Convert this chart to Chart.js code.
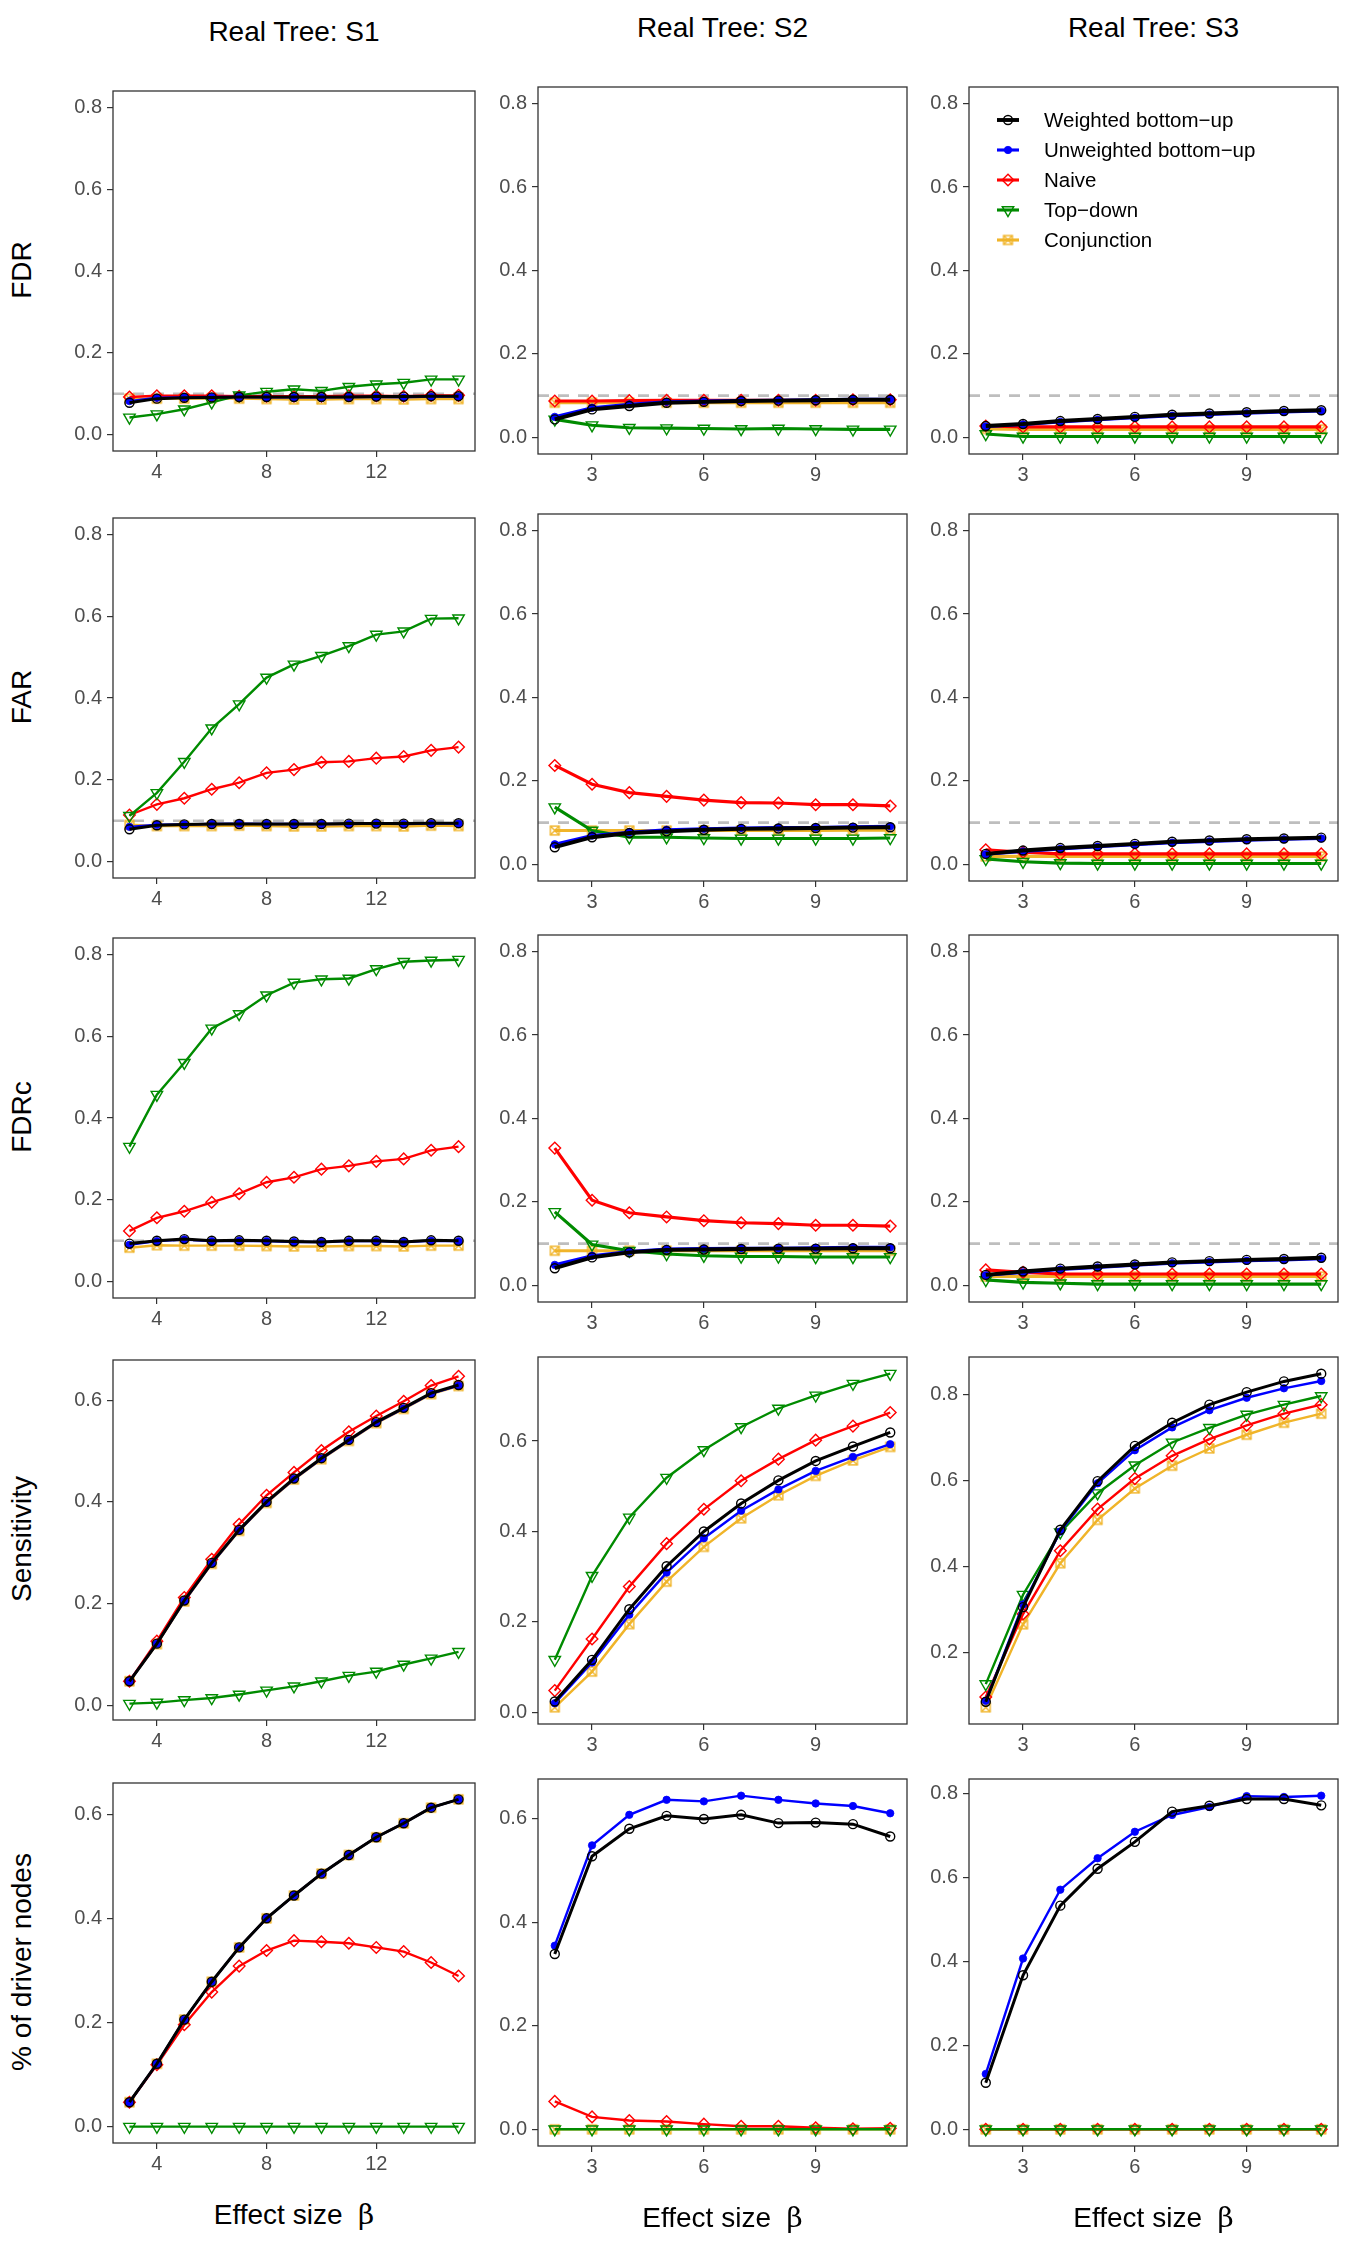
<!DOCTYPE html>
<html>
<head>
<meta charset="utf-8">
<title>Real Tree simulations</title>
<script src="https://cdn.jsdelivr.net/npm/chart.js@4.4.1/dist/chart.umd.min.js"></script>
<style>
  html, body { margin: 0; padding: 0; background: #fff; }
  #page { position: relative; width: 1350px; height: 2250px; background: #fff; overflow: hidden;
          font-family: 'Liberation Sans', Arial, sans-serif; color: #000; }
  .panel { position: absolute; display: block; }
  .colTitle, .xTitle { position: absolute; width: 400px; margin-left: -200px; text-align: center;
                       font-size: 28px; line-height: 28px; white-space: pre; }
  .rowTitle { position: absolute; width: 400px; height: 28px; margin-left: -200px; margin-top: -14px;
              text-align: center; font-size: 28px; line-height: 28px; white-space: nowrap;
              transform: rotate(-90deg); }
  .beta { font-family: 'DejaVu Serif', 'Liberation Serif', serif; }
</style>
</head>
<body>
<div id="page"></div>
<script>
// ===== DATA =====
const betaS1 = [3, 4, 5, 6, 7, 8, 9, 10, 11, 12, 13, 14, 15];
const betaS23 = [2, 3, 4, 5, 6, 7, 8, 9, 10, 11];
const xTicksS1 = [4, 8, 12];
const xTicksS23 = [3, 6, 9];
const yTicks = [0, 0.2, 0.4, 0.6, 0.8];
const rateLimits = [0, 0.8];
const nominalLevel = 0.1;

const methods = ['Weighted bottom\u2212up', 'Unweighted bottom\u2212up', 'Naive', 'Top\u2212down', 'Conjunction'];
const columnTitles = ['Real Tree: S1', 'Real Tree: S2', 'Real Tree: S3'];
const rowTitles = ['FDR', 'FAR', 'FDRc', 'Sensitivity', '% of driver nodes'];

// each table: one row per method, in the order of `methods`
const fdrS1 = [
  [0.078, 0.088, 0.090, 0.091, 0.092, 0.092, 0.092, 0.092, 0.092, 0.093, 0.093, 0.094, 0.094],
  [0.082, 0.090, 0.091, 0.092, 0.092, 0.091, 0.091, 0.091, 0.092, 0.092, 0.091, 0.093, 0.093],
  [0.092, 0.095, 0.095, 0.095, 0.094, 0.094, 0.094, 0.094, 0.095, 0.095, 0.094, 0.096, 0.096],
  [0.042, 0.050, 0.062, 0.079, 0.096, 0.105, 0.111, 0.107, 0.117, 0.123, 0.127, 0.135, 0.135],
  [0.088, 0.088, 0.088, 0.089, 0.088, 0.087, 0.086, 0.086, 0.087, 0.087, 0.086, 0.087, 0.087]
];
const fdrS2 = [
  [0.043, 0.067, 0.075, 0.083, 0.085, 0.087, 0.088, 0.089, 0.090, 0.090],
  [0.049, 0.071, 0.079, 0.085, 0.087, 0.088, 0.089, 0.090, 0.091, 0.091],
  [0.087, 0.087, 0.088, 0.089, 0.089, 0.089, 0.089, 0.089, 0.090, 0.090],
  [0.043, 0.029, 0.023, 0.022, 0.021, 0.020, 0.021, 0.020, 0.019, 0.019],
  [0.083, 0.083, 0.083, 0.083, 0.083, 0.083, 0.083, 0.083, 0.083, 0.083]
];
const fdrS3 = [
  [0.027, 0.032, 0.039, 0.044, 0.049, 0.054, 0.057, 0.060, 0.063, 0.065],
  [0.026, 0.031, 0.037, 0.042, 0.047, 0.052, 0.055, 0.058, 0.061, 0.063],
  [0.027, 0.025, 0.025, 0.025, 0.025, 0.025, 0.025, 0.025, 0.025, 0.025],
  [0.008, 0.002, 0.002, 0.002, 0.002, 0.002, 0.002, 0.002, 0.002, 0.002],
  [0.020, 0.019, 0.019, 0.019, 0.019, 0.019, 0.019, 0.019, 0.019, 0.019]
];
const farS1 = [
  [0.079, 0.089, 0.091, 0.092, 0.092, 0.092, 0.092, 0.092, 0.093, 0.093, 0.093, 0.094, 0.094],
  [0.085, 0.090, 0.091, 0.092, 0.093, 0.092, 0.092, 0.092, 0.092, 0.093, 0.092, 0.093, 0.093],
  [0.114, 0.140, 0.155, 0.177, 0.193, 0.217, 0.225, 0.243, 0.245, 0.253, 0.257, 0.272, 0.280],
  [0.112, 0.168, 0.244, 0.326, 0.385, 0.450, 0.482, 0.503, 0.527, 0.555, 0.563, 0.594, 0.595],
  [0.090, 0.087, 0.087, 0.087, 0.088, 0.087, 0.086, 0.086, 0.087, 0.087, 0.086, 0.088, 0.087]
];
const farS2 = [
  [0.041, 0.065, 0.075, 0.079, 0.083, 0.085, 0.086, 0.087, 0.088, 0.089],
  [0.048, 0.069, 0.077, 0.083, 0.085, 0.087, 0.088, 0.088, 0.090, 0.091],
  [0.237, 0.192, 0.172, 0.163, 0.154, 0.148, 0.147, 0.143, 0.143, 0.140],
  [0.137, 0.081, 0.065, 0.065, 0.063, 0.062, 0.062, 0.062, 0.062, 0.063],
  [0.081, 0.081, 0.081, 0.081, 0.081, 0.081, 0.081, 0.081, 0.082, 0.082]
];
const farS3 = [
  [0.025, 0.033, 0.039, 0.044, 0.049, 0.054, 0.057, 0.060, 0.062, 0.064],
  [0.024, 0.031, 0.037, 0.042, 0.047, 0.052, 0.055, 0.058, 0.060, 0.062],
  [0.035, 0.029, 0.025, 0.025, 0.025, 0.025, 0.025, 0.025, 0.025, 0.025],
  [0.013, 0.006, 0.003, 0.002, 0.002, 0.002, 0.002, 0.002, 0.002, 0.002],
  [0.019, 0.019, 0.019, 0.019, 0.019, 0.019, 0.019, 0.019, 0.019, 0.019]
];
const fdrcS1 = [
  [0.093, 0.100, 0.104, 0.100, 0.101, 0.100, 0.098, 0.097, 0.100, 0.100, 0.097, 0.101, 0.100],
  [0.090, 0.099, 0.103, 0.099, 0.100, 0.099, 0.097, 0.097, 0.099, 0.099, 0.097, 0.100, 0.099],
  [0.124, 0.156, 0.172, 0.194, 0.215, 0.243, 0.255, 0.275, 0.283, 0.294, 0.300, 0.321, 0.330],
  [0.330, 0.457, 0.535, 0.619, 0.654, 0.700, 0.731, 0.739, 0.741, 0.764, 0.782, 0.785, 0.787],
  [0.083, 0.089, 0.088, 0.088, 0.088, 0.087, 0.086, 0.086, 0.087, 0.087, 0.086, 0.088, 0.088]
];
const fdrcS2 = [
  [0.041, 0.067, 0.079, 0.085, 0.086, 0.087, 0.088, 0.088, 0.089, 0.089],
  [0.049, 0.071, 0.081, 0.087, 0.088, 0.089, 0.089, 0.090, 0.091, 0.091],
  [0.329, 0.204, 0.174, 0.164, 0.155, 0.150, 0.148, 0.144, 0.144, 0.142],
  [0.176, 0.098, 0.083, 0.075, 0.071, 0.069, 0.069, 0.068, 0.068, 0.068],
  [0.083, 0.083, 0.083, 0.083, 0.083, 0.083, 0.083, 0.083, 0.083, 0.083]
];
const fdrcS3 = [
  [0.025, 0.033, 0.040, 0.045, 0.050, 0.055, 0.058, 0.061, 0.063, 0.066],
  [0.024, 0.031, 0.038, 0.043, 0.048, 0.053, 0.056, 0.059, 0.061, 0.064],
  [0.037, 0.031, 0.027, 0.027, 0.027, 0.027, 0.027, 0.027, 0.027, 0.027],
  [0.013, 0.007, 0.005, 0.003, 0.003, 0.003, 0.003, 0.003, 0.003, 0.003],
  [0.021, 0.021, 0.021, 0.021, 0.021, 0.021, 0.021, 0.021, 0.021, 0.021]
];
const sensS1 = [
  [0.047, 0.121, 0.206, 0.280, 0.345, 0.400, 0.446, 0.486, 0.522, 0.557, 0.585, 0.614, 0.630],
  [0.047, 0.121, 0.205, 0.279, 0.344, 0.399, 0.445, 0.485, 0.521, 0.556, 0.584, 0.613, 0.629],
  [0.047, 0.126, 0.212, 0.287, 0.356, 0.413, 0.458, 0.501, 0.538, 0.569, 0.598, 0.629, 0.647],
  [0.003, 0.005, 0.010, 0.014, 0.021, 0.029, 0.037, 0.047, 0.058, 0.066, 0.080, 0.092, 0.105],
  [0.047, 0.120, 0.204, 0.278, 0.343, 0.398, 0.444, 0.484, 0.520, 0.555, 0.583, 0.612, 0.628]
];
const sensS2 = [
  [0.024, 0.116, 0.228, 0.323, 0.400, 0.462, 0.513, 0.556, 0.588, 0.619],
  [0.020, 0.110, 0.216, 0.309, 0.385, 0.446, 0.493, 0.534, 0.565, 0.593],
  [0.048, 0.162, 0.278, 0.373, 0.449, 0.512, 0.560, 0.602, 0.633, 0.663],
  [0.116, 0.302, 0.431, 0.519, 0.580, 0.631, 0.672, 0.701, 0.727, 0.749],
  [0.011, 0.090, 0.195, 0.289, 0.366, 0.429, 0.480, 0.523, 0.557, 0.587]
];
const sensS3 = [
  [0.086, 0.306, 0.486, 0.599, 0.681, 0.735, 0.777, 0.806, 0.831, 0.849],
  [0.088, 0.312, 0.482, 0.594, 0.671, 0.724, 0.764, 0.793, 0.815, 0.832],
  [0.097, 0.290, 0.437, 0.534, 0.605, 0.658, 0.697, 0.729, 0.756, 0.777],
  [0.127, 0.335, 0.480, 0.571, 0.636, 0.689, 0.723, 0.754, 0.777, 0.797],
  [0.073, 0.266, 0.408, 0.509, 0.582, 0.635, 0.675, 0.707, 0.735, 0.756]
];
const pctS1 = [
  [0.047, 0.121, 0.206, 0.279, 0.345, 0.401, 0.445, 0.487, 0.523, 0.557, 0.584, 0.614, 0.630],
  [0.047, 0.121, 0.206, 0.279, 0.345, 0.401, 0.445, 0.487, 0.523, 0.557, 0.584, 0.614, 0.630],
  [0.047, 0.119, 0.196, 0.259, 0.309, 0.339, 0.358, 0.356, 0.353, 0.345, 0.337, 0.316, 0.290],
  [0, 0, 0, 0, 0, 0, 0, 0, 0, 0, 0, 0, 0],
  [0.047, 0.121, 0.206, 0.279, 0.345, 0.401, 0.445, 0.487, 0.523, 0.557, 0.584, 0.614, 0.630]
];
const pctS2 = [
  [0.339, 0.528, 0.581, 0.606, 0.600, 0.608, 0.592, 0.593, 0.590, 0.566],
  [0.355, 0.549, 0.608, 0.637, 0.634, 0.645, 0.637, 0.630, 0.625, 0.611],
  [0.054, 0.024, 0.017, 0.015, 0.010, 0.006, 0.006, 0.003, 0.001, 0.002],
  [0, 0, 0, 0, 0, 0, 0, 0, 0, 0],
  [0, 0, 0, 0, 0, 0, 0, 0, 0, 0]
];
const pctS3 = [
  [0.111, 0.367, 0.533, 0.621, 0.685, 0.757, 0.771, 0.787, 0.787, 0.772],
  [0.132, 0.407, 0.571, 0.646, 0.709, 0.749, 0.768, 0.794, 0.792, 0.795],
  [0, 0, 0, 0, 0, 0, 0, 0, 0, 0],
  [0, 0, 0, 0, 0, 0, 0, 0, 0, 0],
  [0, 0, 0, 0, 0, 0, 0, 0, 0, 0]
];

// ===== LAYOUT =====
const AXW = 70, AXH = 46, PADT = 6, PADR = 8;
const colLeft = [113, 538, 969];
const colSide = [362, 369, 369];
const rowMid = [269.5, 696.5, 1117.3, 1539.2, 1961.5];
const FONT = "'Liberation Sans', Arial, sans-serif";

Chart.defaults.font.family = FONT;

function boxCross(color, half, lw) {
  const s = Math.ceil(2 * half + lw + 2);
  const c = document.createElement('canvas');
  c.width = s; c.height = s;
  const g = c.getContext('2d');
  const o = s / 2;
  g.strokeStyle = color; g.lineWidth = lw;
  g.strokeRect(o - half, o - half, 2 * half, 2 * half);
  g.beginPath();
  g.moveTo(o - half, o - half); g.lineTo(o + half, o + half);
  g.moveTo(o + half, o - half); g.lineTo(o - half, o + half);
  g.stroke();
  return c;
}

// layer: 0 is drawn on top (weighted on top, then unweighted, top-down, naive, conjunction)
const seriesStyle = [
  { color: '#000000', width: 3.0, point: 'circle', rot: 0, radius: 4.5, fill: 'rgba(0,0,0,0)', pw: 1.4, layer: 0 },
  { color: '#0000FF', width: 2.4, point: 'circle', rot: 0, radius: 3.7, fill: '#0000FF', pw: 0.8, layer: 1 },
  { color: '#FF0000', width: 2.4, point: 'rectRot', rot: 0, radius: 5.8, fill: 'rgba(0,0,0,0)', pw: 1.4, layer: 3 },
  { color: '#008B00', width: 2.4, point: 'triangle', rot: 180, radius: 6.6, fill: 'rgba(0,0,0,0)', pw: 1.4, layer: 2 },
  { color: '#F0B429', width: 2.4, point: boxCross('#F0B429', 4.4, 1.4), rot: 0, radius: 4.5, fill: 'rgba(0,0,0,0)', pw: 1.4, layer: 4 }
];

// ===== PLUGINS =====
const panelFrame = {
  id: 'panelFrame',
  beforeDatasetsDraw(chart, args, opts) {
    if (opts.refLine == null) return;
    const { ctx, chartArea } = chart;
    const y = chart.scales.y.getPixelForValue(opts.refLine);
    ctx.save();
    ctx.strokeStyle = '#BEBEBE';
    ctx.lineWidth = 2.6;
    ctx.setLineDash([11, 9]);
    ctx.beginPath();
    ctx.moveTo(chartArea.left, y);
    ctx.lineTo(chartArea.right, y);
    ctx.stroke();
    ctx.restore();
  },
  afterDraw(chart) {
    const { ctx, chartArea } = chart;
    ctx.save();
    ctx.strokeStyle = '#333333';
    ctx.lineWidth = 1.3;
    ctx.strokeRect(chartArea.left, chartArea.top, chartArea.right - chartArea.left, chartArea.bottom - chartArea.top);
    ctx.restore();
  }
};

const keyLegend = {
  id: 'keyLegend',
  afterDatasetsDraw(chart, args, opts) {
    if (!opts.show) return;
    const { ctx, chartArea } = chart;
    ctx.save();
    chart.data.datasets.forEach((ds, i) => {
      const y = chartArea.top + opts.top + i * opts.step;
      const x0 = chartArea.left + opts.keyLeft;
      ctx.setLineDash([]);
      ctx.strokeStyle = ds.borderColor;
      ctx.lineWidth = ds.borderWidth;
      ctx.beginPath();
      ctx.moveTo(x0, y);
      ctx.lineTo(x0 + opts.keyWidth, y);
      ctx.stroke();
      ctx.fillStyle = ds.pointBackgroundColor;
      ctx.strokeStyle = ds.pointBorderColor;
      ctx.lineWidth = ds.pointBorderWidth;
      Chart.helpers.drawPoint(ctx, {
        pointStyle: ds.pointStyle, rotation: ds.pointRotation,
        radius: ds.pointRadius, borderWidth: ds.pointBorderWidth
      }, x0 + opts.keyWidth / 2, y);
      ctx.fillStyle = '#000';
      ctx.font = '20.5px ' + FONT;
      ctx.textAlign = 'left';
      ctx.textBaseline = 'middle';
      ctx.fillText(ds.label, chartArea.left + opts.textLeft, y + 1);
    });
    ctx.restore();
  }
};

// ===== PANELS =====
const panelTables = [
  [fdrS1, fdrS2, fdrS3],
  [farS1, farS2, farS3],
  [fdrcS1, fdrcS2, fdrcS3],
  [sensS1, sensS2, sensS3],
  [pctS1, pctS2, pctS3]
];

function expand(lo, hi) {
  const d = (hi - lo) * 0.05;
  return [lo - d, hi + d];
}

function noPad(s) {
  s.paddingTop = 0; s.paddingBottom = 0; s.paddingLeft = 0; s.paddingRight = 0;
}

const page = document.getElementById('page');

panelTables.forEach((row, r) => {
  row.forEach((table, c) => {
    const xs = c === 0 ? betaS1 : betaS23;
    const xTicks = c === 0 ? xTicksS1 : xTicksS23;
    const side = colSide[c];
    const top = Math.round(rowMid[r] - side / 2);
    const left = colLeft[c];
    const thick = (r < 3 && c > 0) ? 1.3 : 1;

    let yr;
    if (r < 3) {
      yr = expand(rateLimits[0], rateLimits[1]);
    } else {
      const all = table.flat();
      yr = expand(Math.min(...all), Math.max(...all));
    }
    const xr = expand(xs[0], xs[xs.length - 1]);

    const canvas = document.createElement('canvas');
    canvas.className = 'panel';
    canvas.width = AXW + side + PADR;
    canvas.height = PADT + side + AXH;
    canvas.style.left = (left - AXW) + 'px';
    canvas.style.top = (top - PADT) + 'px';
    canvas.style.width = canvas.width + 'px';
    canvas.style.height = canvas.height + 'px';
    page.appendChild(canvas);

    const datasets = table.map((vals, i) => {
      const st = seriesStyle[i];
      return {
        label: methods[i],
        data: xs.map((x, k) => ({ x: x, y: vals[k] })),
        order: st.layer,
        borderColor: st.color,
        borderWidth: st.width * thick,
        backgroundColor: st.fill,
        fill: false,
        tension: 0,
        pointStyle: st.point,
        pointRotation: st.rot,
        pointRadius: st.radius,
        pointHoverRadius: st.radius,
        pointBorderWidth: st.pw,
        pointBorderColor: st.color,
        pointBackgroundColor: st.fill
      };
    });

    const tickFont = { family: FONT, size: 20 };
    new Chart(canvas, {
      type: 'line',
      data: { datasets: datasets },
      plugins: [panelFrame, keyLegend],
      options: {
        responsive: false,
        animation: false,
        devicePixelRatio: 1,
        layout: { padding: { top: PADT, right: PADR, left: 0, bottom: 0 } },
        plugins: {
          legend: { display: false },
          tooltip: { enabled: false },
          panelFrame: { refLine: r < 3 ? nominalLevel : null },
          keyLegend: { show: r === 0 && c === 2, top: 33, step: 30, keyLeft: 28, keyWidth: 22, textLeft: 75 }
        },
        scales: {
          x: {
            type: 'linear',
            min: xr[0], max: xr[1],
            afterFit: (s) => { s.height = AXH; noPad(s); },
            afterBuildTicks: (s) => { s.ticks = xTicks.map(v => ({ value: v })); },
            ticks: { font: tickFont, color: '#4D4D4D', padding: 3, maxRotation: 0, autoSkip: false,
                     callback: (v) => String(v) },
            grid: { display: true, drawOnChartArea: false, drawTicks: true, tickLength: 6,
                    color: '#333333', lineWidth: 1.2 },
            border: { display: false }
          },
          y: {
            type: 'linear',
            min: yr[0], max: yr[1],
            afterFit: (s) => { s.width = AXW; noPad(s); },
            afterBuildTicks: (s) => {
              s.ticks = yTicks.filter(v => v >= yr[0] && v <= yr[1]).map(v => ({ value: v }));
            },
            ticks: { font: tickFont, color: '#4D4D4D', padding: 5, autoSkip: false,
                     callback: (v) => Number(v).toFixed(1) },
            grid: { display: true, drawOnChartArea: false, drawTicks: true, tickLength: 6,
                    color: '#333333', lineWidth: 1.2 },
            border: { display: false }
          }
        }
      }
    });

    if (r === 0) {
      const t = document.createElement('div');
      t.className = 'colTitle';
      t.textContent = columnTitles[c];
      t.style.left = (left + side / 2) + 'px';
      t.style.top = (top - 71) + 'px';
      page.appendChild(t);
    }
    if (r === panelTables.length - 1) {
      const t = document.createElement('div');
      t.className = 'xTitle';
      t.innerHTML = 'Effect size  <span class="beta">\u03B2</span>';
      t.style.left = (left + side / 2) + 'px';
      t.style.top = (top + side + 58) + 'px';
      page.appendChild(t);
    }
    if (c === 0) {
      const t = document.createElement('div');
      t.className = 'rowTitle';
      t.textContent = rowTitles[r];
      t.style.left = '22px';
      t.style.top = rowMid[r] + 'px';
      page.appendChild(t);
    }
  });
});
</script>
</body>
</html>
